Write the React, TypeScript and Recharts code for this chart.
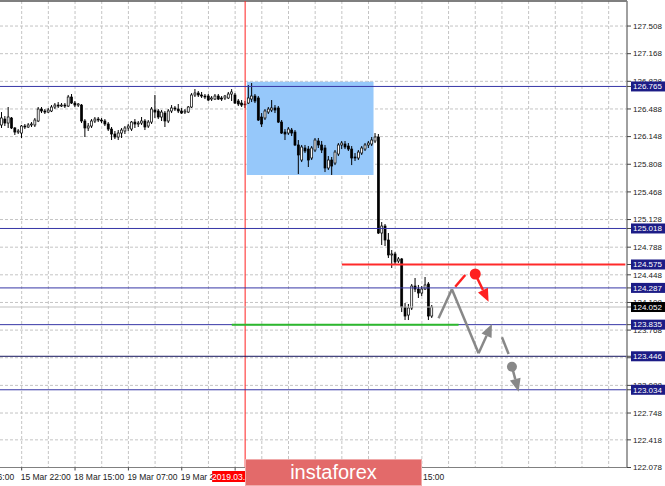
import React from 'react';
import {
  ComposedChart,
  Bar,
  XAxis,
  YAxis,
  CartesianGrid,
  ReferenceLine,
  ReferenceArea,
  ReferenceDot,
} from 'recharts';

// H1 candles (oldest first)
const OPEN = [
  126.291, 126.364, 126.315, 126.377, 126.254, 126.204, 126.192, 126.278, 126.266, 126.291,
  126.291, 126.340, 126.487, 126.463, 126.450, 126.463, 126.512, 126.536, 126.524, 126.536,
  126.524, 126.635, 126.561, 126.536, 126.536, 126.340, 126.254, 126.278, 126.340, 126.364,
  126.352, 126.340, 126.303, 126.241, 126.180, 126.143, 126.192, 126.217, 126.254, 126.241,
  126.327, 126.303, 126.315, 126.340, 126.278, 126.327, 126.475, 126.463, 126.389, 126.438,
  126.340, 126.463, 126.500, 126.487, 126.463, 126.450, 126.450, 126.512, 126.660, 126.684,
  126.660, 126.647, 126.647, 126.610, 126.610, 126.647, 126.623, 126.623, 126.623, 126.672,
  126.660, 126.586, 126.561, 126.549, 126.561, 126.610, 126.647, 126.623, 126.389, 126.377,
  126.450, 126.475, 126.500, 126.500, 126.327, 126.204, 126.192, 126.229, 126.204, 126.045,
  125.860, 126.008, 125.995, 125.885, 125.983, 126.094, 126.045, 126.008, 125.762, 125.860,
  125.823, 125.934, 126.045, 126.057, 126.032, 125.995, 125.897, 125.885, 125.946, 125.995,
  126.045, 126.057, 126.094, 126.143, 124.962, 125.048, 124.876, 124.692, 124.704, 124.618,
  124.643, 124.052, 123.953, 124.040, 124.310, 124.273, 124.224, 124.273, 124.335, 123.941,
];
const HIGH = [
  126.450, 126.401, 126.512, 126.389, 126.266, 126.241, 126.291, 126.303, 126.315, 126.327,
  126.377, 126.512, 126.512, 126.487, 126.500, 126.536, 126.561, 126.573, 126.561, 126.561,
  126.660, 126.672, 126.586, 126.561, 126.549, 126.364, 126.315, 126.364, 126.389, 126.389,
  126.377, 126.364, 126.327, 126.266, 126.217, 126.229, 126.254, 126.278, 126.303, 126.340,
  126.364, 126.340, 126.389, 126.364, 126.352, 126.512, 126.660, 126.487, 126.475, 126.463,
  126.487, 126.536, 126.524, 126.549, 126.500, 126.487, 126.524, 126.684, 126.733, 126.709,
  126.697, 126.672, 126.672, 126.647, 126.672, 126.672, 126.647, 126.660, 126.697, 126.733,
  126.684, 126.610, 126.598, 126.586, 126.782, 126.807, 126.672, 126.647, 126.438, 126.487,
  126.512, 126.598, 126.536, 126.524, 126.352, 126.241, 126.266, 126.254, 126.229, 126.106,
  126.045, 126.045, 126.032, 126.032, 126.131, 126.131, 126.094, 126.045, 125.909, 125.897,
  125.983, 126.069, 126.094, 126.094, 126.069, 126.032, 125.946, 125.983, 126.032, 126.069,
  126.094, 126.143, 126.192, 126.180, 125.097, 125.073, 124.962, 124.753, 124.728, 124.667,
  124.655, 124.101, 124.089, 124.335, 124.409, 124.323, 124.310, 124.421, 124.359, 124.077,
];
const LOW = [
  126.254, 126.278, 126.254, 126.241, 126.168, 126.180, 126.131, 126.241, 126.254, 126.266,
  126.266, 126.327, 126.438, 126.426, 126.438, 126.450, 126.487, 126.500, 126.512, 126.500,
  126.512, 126.549, 126.512, 126.512, 126.315, 126.143, 126.217, 126.254, 126.315, 126.327,
  126.315, 126.278, 126.217, 126.106, 126.118, 126.106, 126.131, 126.180, 126.217, 126.217,
  126.254, 126.266, 126.291, 126.229, 126.254, 126.303, 126.377, 126.364, 126.340, 126.266,
  126.315, 126.438, 126.463, 126.438, 126.426, 126.426, 126.438, 126.500, 126.635, 126.635,
  126.623, 126.610, 126.586, 126.586, 126.598, 126.598, 126.586, 126.598, 126.610, 126.586,
  126.549, 126.524, 126.512, 126.500, 126.549, 126.573, 126.561, 126.340, 126.266, 126.352,
  126.426, 126.450, 126.438, 126.315, 126.180, 126.106, 126.168, 126.155, 126.032, 125.688,
  125.835, 125.946, 125.774, 125.860, 125.958, 126.008, 125.946, 125.712, 125.737, 125.676,
  125.798, 125.909, 125.995, 125.995, 125.971, 125.798, 125.848, 125.860, 125.922, 125.971,
  126.008, 126.032, 126.069, 124.950, 124.815, 124.802, 124.655, 124.532, 124.569, 124.593,
  123.990, 123.892, 123.892, 124.015, 124.236, 124.163, 124.187, 124.261, 123.892, 123.917,
];
const CLOSE = [
  126.377, 126.315, 126.389, 126.254, 126.204, 126.217, 126.278, 126.266, 126.291, 126.303,
  126.352, 126.487, 126.463, 126.450, 126.475, 126.512, 126.536, 126.524, 126.536, 126.524,
  126.635, 126.561, 126.536, 126.549, 126.340, 126.254, 126.278, 126.340, 126.364, 126.352,
  126.340, 126.303, 126.241, 126.180, 126.143, 126.192, 126.229, 126.254, 126.278, 126.327,
  126.303, 126.315, 126.340, 126.266, 126.327, 126.487, 126.450, 126.389, 126.450, 126.340,
  126.463, 126.500, 126.487, 126.463, 126.438, 126.463, 126.512, 126.660, 126.684, 126.660,
  126.647, 126.635, 126.598, 126.623, 126.647, 126.610, 126.610, 126.647, 126.672, 126.697,
  126.561, 126.549, 126.536, 126.540, 126.623, 126.647, 126.586, 126.352, 126.303, 126.463,
  126.487, 126.500, 126.475, 126.327, 126.192, 126.180, 126.241, 126.192, 126.045, 125.922,
  126.020, 125.971, 125.860, 126.008, 126.106, 126.045, 125.983, 125.762, 125.860, 125.786,
  125.958, 126.045, 126.069, 126.020, 125.995, 125.885, 125.885, 125.958, 126.008, 126.045,
  126.069, 126.106, 126.143, 124.962, 125.048, 124.876, 124.692, 124.704, 124.606, 124.643,
  124.052, 123.941, 124.040, 124.310, 124.273, 124.224, 124.273, 124.323, 123.941, 124.052,
];

// bar slots incl. the empty space to the right of the last candle
const SLOTS = 188;

const Y_MIN = 122.078;
const Y_MAX = 127.816;
const Y_TICKS = [
  127.508, 127.168, 126.828, 126.488, 126.148, 125.808, 125.468, 125.128, 124.788,
  124.448, 124.108, 123.768, 123.428, 123.088, 122.748, 122.418, 122.078,
];

const GRID_X = [6, 14, 22, 30, 38, 46, 54, 62, 70, 78, 86, 94, 102, 110, 118, 126, 134, 142, 150, 158, 166, 174, 182];
// labels under the watermark are left out
const TIME_LABELS: Record<number, string> = {
  0: '15 Mar 06:00',
  6: '15 Mar 22:00',
  22: '18 Mar 15:00',
  38: '19 Mar 07:00',
  54: '19 Mar 23:00',
  118: '22 Mar 15:00',
};

// horizontal levels drawn across the chart
const LEVELS = [126.765, 125.018, 124.287, 123.835, 123.034];
const PIVOT = 123.446;
const BID = 124.052;
const RESIST = 124.575;
const RESIST_FROM = 102;
const SUPPORT_FROM = 69;
const SUPPORT_TO = 137;
const DAY_RANGE = [124.88, PIVOT];

// price tags on the right scale: value -> box colour
const TAGS: Record<string, string> = {
  '126.765': '#1c1c86',
  '125.018': '#1c1c86',
  '124.575': '#1c1c86',
  '124.287': '#1c1c86',
  '124.052': '#000000',
  '123.835': '#1c1c86',
  '123.446': '#1c1c86',
  '123.034': '#1c1c86',
};
const TAG_VALUES = [126.765, 125.018, 124.575, 124.287, 124.052, 123.835, 123.446, 123.034];

const EVENT_BAR = 73;
const EVENT_LABEL = '2019.03.20 18:00';
const BOX = { x1: 74, x2: 111, y1: 125.676, y2: 126.823 };

// forecast drawing
const GRAY_PATH = [
  { x: 131, y: 123.913 },
  { x: 135, y: 124.27 },
  { x: 143, y: 123.482 },
];
const GRAY_ARROW = [{ x: 143, y: 123.482 }, { x: 147, y: 123.843 }];
const GRAY_DASH = [{ x: 150, y: 123.679 }, { x: 152, y: 123.474 }];
const GRAY_DOT = { x: 153, y: 123.318 };
const GRAY_DROP = [{ x: 153, y: 123.318 }, { x: 155, y: 123.01 }];
const RED_DASH = [{ x: 136, y: 124.302 }, { x: 139, y: 124.446 }];
const RED_DOT = { x: 142, y: 124.458 };
const RED_DROP = [{ x: 142, y: 124.458 }, { x: 146, y: 124.117 }];

const FONT = '"Liberation Sans", Arial, sans-serif';

const data = Array.from({ length: SLOTS }, (_, i) =>
  i < OPEN.length
    ? { t: i, range: [LOW[i], HIGH[i]], open: OPEN[i], high: HIGH[i], low: LOW[i], close: CLOSE[i] }
    : { t: i, range: null }
);

// tick order matters: the event tag must be drawn after the 19 Mar label,
// and the price tags after the plain price labels
const X_TICKS = [0, ...GRID_X, EVENT_BAR].sort((a, b) => a - b);
const Y_AXIS_TICKS = [...Y_TICKS, ...TAG_VALUES];

const Candle = (props: any) => {
  const { x, y, width, height, payload } = props;
  if (payload == null || payload.open == null || !isFinite(y) || !isFinite(height)) return null;
  const cx = x + width / 2;
  const span = payload.high - payload.low || 1;
  const toY = (p: number) => y + ((payload.high - p) / span) * height;
  const yo = toY(payload.open);
  const yc = toY(payload.close);
  const top = Math.min(yo, yc);
  const bh = Math.max(Math.abs(yc - yo), 0.8);
  const bull = payload.close >= payload.open;
  return (
    <g>
      <line x1={cx} x2={cx} y1={y} y2={y + height} stroke="#000" strokeWidth={1} />
      <rect x={cx - 1} y={top} width={2} height={bh} fill={bull ? '#fff' : '#000'} stroke="#000" strokeWidth={0.7} />
    </g>
  );
};

const PriceTick = (props: any) => {
  const { x, y, payload } = props;
  const text = Number(payload.value).toFixed(3);
  const tag = TAGS[text];
  if (tag) {
    return (
      <g>
        <rect x={x - 2} y={y - 5} width={34} height={10} fill={tag} />
        <text x={x} y={y} dy="0.35em" fontSize={8} fontFamily={FONT} fill="#fff" textAnchor="start">
          {text}
        </text>
      </g>
    );
  }
  return (
    <text x={x} y={y} dy="0.35em" fontSize={8} fontFamily={FONT} fill="#222" textAnchor="start">
      {text}
    </text>
  );
};

const TimeTick = (props: any) => {
  const { x, y, payload } = props;
  if (payload.value === EVENT_BAR) {
    return (
      <g>
        <rect x={x - 33} y={y + 0.5} width={66} height={11} fill="#ff0000" />
        <text x={x} y={y + 9} fontSize={8.5} fontFamily={FONT} fill="#fff" textAnchor="middle">
          {EVENT_LABEL}
        </text>
      </g>
    );
  }
  const label = TIME_LABELS[payload.value];
  if (payload.value === 0) {
    return (
      <text x={x + 12.5} y={y + 9} fontSize={8.5} fontFamily={FONT} fill="#222" textAnchor="end">
        {label}
      </text>
    );
  }
  if ((payload.value - 6) % 16 !== 0 || payload.value > 118) return null;
  return (
    <g>
      <line x1={x} x2={x} y1={y - 3} y2={y} stroke="#444" />
      {label ? (
        <text x={x - 1} y={y + 9} fontSize={8.5} fontFamily={FONT} fill="#222" textAnchor="start">
          {label}
        </text>
      ) : null}
    </g>
  );
};

const arrowShape = (color: string) => (p: any) => {
  const { x1, y1, x2, y2 } = p;
  const ang = Math.atan2(y2 - y1, x2 - x1);
  const len = 13;
  const half = 5.5;
  const bx = x2 - len * Math.cos(ang);
  const by = y2 - len * Math.sin(ang);
  const sx = half * Math.sin(ang);
  const sy = half * Math.cos(ang);
  const pts = `${x2},${y2} ${bx + sx},${by - sy} ${bx - sx},${by + sy}`;
  return (
    <g>
      <line x1={x1} y1={y1} x2={bx} y2={by} stroke={color} strokeWidth={2.5} />
      <polygon points={pts} fill={color} />
    </g>
  );
};

export default function App() {
  return (
    <div style={{ position: 'absolute', left: 0, top: 0, width: 665, height: 486, background: '#fff' }}>
      <ComposedChart
        width={665}
        height={486}
        data={data}
        margin={{ top: 1, right: 0, bottom: 0, left: 0 }}
        barCategoryGap={0}
      >
        <ReferenceArea x1={BOX.x1} x2={BOX.x2} y1={BOX.y1} y2={BOX.y2} fill="#96c8fa" fillOpacity={1} stroke="none" />
        <CartesianGrid stroke="#c4c4c4" strokeDasharray="3 2" verticalValues={GRID_X} horizontalValues={Y_TICKS} />
        <XAxis
          dataKey="t"
          type="category"
          ticks={X_TICKS}
          interval={0}
          height={18.5}
          tickSize={3}
          tickMargin={0}
          tickLine={false}
          axisLine={{ stroke: '#808080', strokeWidth: 1 }}
          tick={<TimeTick />}
        />
        <YAxis
          orientation="right"
          domain={[Y_MIN, Y_MAX]}
          ticks={Y_AXIS_TICKS}
          interval={0}
          allowDataOverflow
          width={38}
          tickSize={4}
          tickMargin={2}
          axisLine={{ stroke: '#808080', strokeWidth: 1.5 }}
          tickLine={{ stroke: '#444' }}
          tick={<PriceTick />}
        />
        <ReferenceLine y={Y_MAX} stroke="#555" strokeWidth={1.5} />
        <ReferenceLine x={EVENT_BAR} stroke="#ff2020" strokeWidth={1} />
        <ReferenceLine y={BID} stroke="#c0c0c0" strokeWidth={1} />
        {LEVELS.map((v) => (
          <ReferenceLine key={v} y={v} stroke="#3636a6" strokeWidth={1} />
        ))}
        <ReferenceLine y={PIVOT} stroke="#14145c" strokeWidth={1} />
        <ReferenceLine
          segment={[{ x: RESIST_FROM, y: RESIST }, { x: SLOTS - 1, y: RESIST }]}
          stroke="#ff2a2a"
          strokeWidth={2}
        />
        <ReferenceLine
          segment={[{ x: SUPPORT_FROM, y: LEVELS[3] }, { x: SUPPORT_TO, y: LEVELS[3] }]}
          stroke="#2db82d"
          strokeWidth={2}
        />
        <ReferenceLine
          segment={[{ x: SLOTS - 1, y: DAY_RANGE[0] }, { x: SLOTS - 1, y: DAY_RANGE[1] }]}
          position="end"
          stroke="#000"
          strokeWidth={3.5}
        />
        <Bar dataKey="range" isAnimationActive={false} shape={<Candle />} />
        {GRAY_PATH.slice(1).map((pt, k) => (
          <ReferenceLine key={k} segment={[GRAY_PATH[k], pt]} stroke="#888" strokeWidth={2.5} />
        ))}
        <ReferenceLine segment={GRAY_ARROW} shape={arrowShape('#888')} />
        <ReferenceLine segment={GRAY_DASH} stroke="#888" strokeWidth={2.5} />
        <ReferenceDot x={GRAY_DOT.x} y={GRAY_DOT.y} r={5} fill="#888" stroke="none" />
        <ReferenceLine segment={GRAY_DROP} shape={arrowShape('#888')} />
        <ReferenceLine segment={RED_DASH} stroke="#ff2020" strokeWidth={2.5} />
        <ReferenceDot x={RED_DOT.x} y={RED_DOT.y} r={5.5} fill="#ff2020" stroke="none" />
        <ReferenceLine segment={RED_DROP} shape={arrowShape('#ff2020')} />
      </ComposedChart>
      <div
        style={{
          position: 'absolute',
          left: 245,
          top: 459,
          width: 177,
          height: 27,
          boxSizing: 'border-box',
          background: '#e36a6a',
          border: '1px solid #f0aaaa',
          color: '#fff',
          fontFamily: FONT,
          fontSize: 20,
          lineHeight: '25px',
          textAlign: 'center',
        }}
      >
        instaforex
      </div>
    </div>
  );
}
